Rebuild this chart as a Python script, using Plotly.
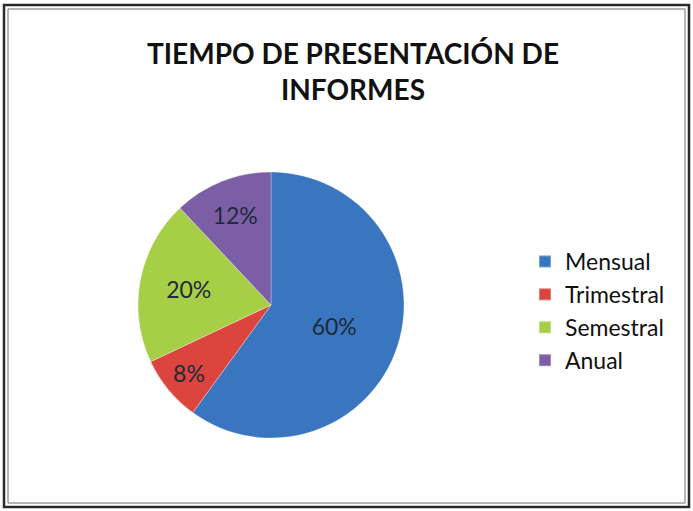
import plotly.graph_objects as go

categories = ["Mensual", "Trimestral", "Semestral", "Anual"]
values = [60, 8, 20, 12]
colors = ["#3a76c0", "#dc453e", "#a6cf47", "#7c5ea6"]
title_text = "TIEMPO DE PRESENTACIÓN DE<br>INFORMES"

W, H = 693, 511
ml, mr, mt, mb = 10, 10, 10, 10
pw, ph = W - ml - mr, H - mt - mb

def px_x(x):
    return (x - ml) / pw

def px_y(y):
    return (H - y - mb) / ph

fig = go.Figure(go.Pie(
    labels=categories,
    values=values,
    sort=False,
    direction="clockwise",
    rotation=0,
    marker=dict(colors=colors, line=dict(color="rgba(255,255,255,0.3)", width=1)),
    texttemplate="%{percent:.0%}",
    textposition="inside",
    insidetextorientation="horizontal",
    textfont=dict(family="Lato, Open Sans, sans-serif", size=23, color="#1e2a3a"),
    domain=dict(x=[px_x(138), px_x(404)], y=[px_y(438), px_y(172)]),
    hoverinfo="label+percent",
))

fig.update_layout(
    width=W, height=H,
    margin=dict(l=ml, r=mr, t=mt, b=mb),
    paper_bgcolor="white",
    plot_bgcolor="white",
    legend=dict(
        x=px_x(525), xanchor="left",
        y=px_y(311), yanchor="middle",
        font=dict(family="Lato, Open Sans, sans-serif", size=23, color="#111111"),
        bgcolor="rgba(0,0,0,0)",
        itemsizing="constant",
    ),
    showlegend=True,
    annotations=[
        dict(text="<b>" + title_text + "</b>", xref="paper", yref="paper",
             x=px_x(353), y=px_y(34), xanchor="center", yanchor="top",
             showarrow=False, align="center",
             font=dict(family="Lato, Open Sans, sans-serif", size=28, color="#111111")),
    ],
    shapes=[
        dict(type="rect", xref="paper", yref="paper",
             x0=px_x(4), x1=px_x(689), y0=px_y(507), y1=px_y(5),
             line=dict(color="#2a2a2a", width=2.5), fillcolor="rgba(0,0,0,0)", layer="above"),
        dict(type="rect", xref="paper", yref="paper",
             x0=px_x(8), x1=px_x(685), y0=px_y(503), y1=px_y(9),
             line=dict(color="#6a6a6a", width=1), fillcolor="rgba(0,0,0,0)", layer="above"),
    ],
)

fig.write_html("out.html", config={"displayModeBar": False},
               post_script="document.body.style.margin='0';")
